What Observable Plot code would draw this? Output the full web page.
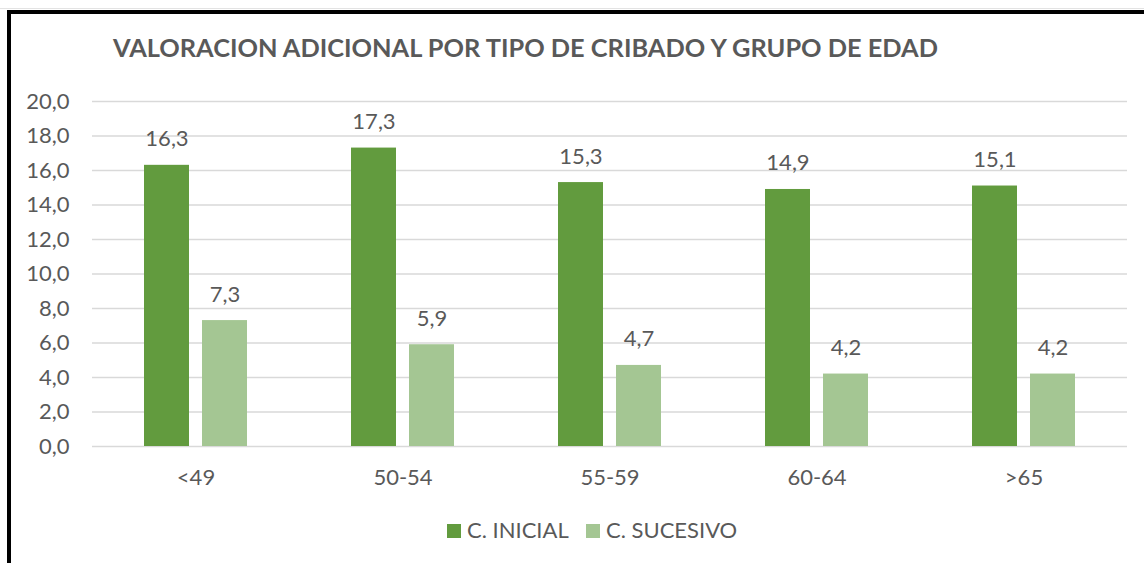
<!DOCTYPE html>
<html>
<head>
<meta charset="utf-8">
<script src="https://cdn.jsdelivr.net/npm/d3@7"></script>
<script src="https://cdn.jsdelivr.net/npm/@observablehq/plot@0.6"></script>
<style>
  html, body { margin: 0; padding: 0; background: #fff; overflow: hidden; }
  #wrap { position: relative; width: 1144px; height: 563px; overflow: hidden; font-family: Lato, "Open Sans", sans-serif; }
  #frame { position: absolute; left: 7px; top: 10px; width: 1300px; height: 700px; border-left: 4px solid #000; border-top: 4px solid #000; box-sizing: border-box; }
  #topline { position: absolute; left: 0; top: 8px; width: 1144px; height: 1px; background: #e3e3e3; }
  #chart { position: absolute; left: 0; top: 0; }
  #overlay { position: absolute; left: 0; top: 0; pointer-events: none; }
</style>
</head>
<body>
<div id="wrap">
  <div id="topline"></div>
  <div id="frame"></div>
  <div id="chart"></div>
  <svg id="overlay" width="1144" height="563"></svg>
</div>
<script>
const titleText = "VALORACION ADICIONAL POR TIPO DE CRIBADO Y GRUPO DE EDAD";
const groups = ["<49", "50-54", "55-59", "60-64", ">65"];
const series = ["C. INICIAL", "C. SUCESIVO"];
const inicial = [16.3, 17.3, 15.3, 14.9, 15.1];
const sucesivo = [7.3, 5.9, 4.7, 4.2, 4.2];
const yTicks = [0, 2, 4, 6, 8, 10, 12, 14, 16, 18, 20];
const colors = ["#629b3e", "#a4c693"];

const fmt = v => v.toFixed(1).replace(".", ",");

const data = [];
groups.forEach((g, i) => {
  data.push({group: g, series: series[0], value: inicial[i]});
  data.push({group: g, series: series[1], value: sucesivo[i]});
});

const textColor = "#595959";

const chart = Plot.plot({
  width: 1144,
  height: 500,
  marginLeft: 91,
  marginRight: 16,
  marginTop: 101,
  marginBottom: 54,
  style: {fontFamily: "Lato, 'Open Sans', sans-serif", fontSize: "22px", color: textColor, background: "transparent"},
  fx: {domain: groups, padding: 0, label: null, axis: "bottom", tickSize: 0, tickPadding: 23},
  x: {domain: series, paddingInner: 13 / 59, paddingOuter: 0.8675, axis: null},
  y: {domain: [0, 20], ticks: yTicks, tickFormat: fmt, tickSize: 0, tickPadding: 23, label: null},
  color: {domain: series, range: colors},
  marks: [
    Plot.gridY(yTicks, {stroke: "#d9d9d9", strokeOpacity: 1, strokeWidth: 1.5}),
    Plot.barY(data, {fx: "group", x: "series", y: "value", fill: "series"}),
    Plot.text(data, {fx: "group", x: "series", y: "value", text: d => fmt(d.value), dy: -19, lineAnchor: "bottom", fill: textColor, fontSize: 22})
  ]
});
document.getElementById("chart").appendChild(chart);

// Title and legend overlay
const ov = d3.select("#overlay");
ov.append("text")
  .attr("x", 113).attr("y", 57)
  .attr("font-family", "Lato, 'Open Sans', sans-serif")
  .attr("font-weight", 700)
  .attr("font-size", 24)
  .attr("fill", textColor)
  .attr("textLength", 825)
  .attr("lengthAdjust", "spacingAndGlyphs")
  .text(titleText);

const legendX = [447, 586];
series.forEach((s, i) => {
  ov.append("rect").attr("x", legendX[i]).attr("y", 524).attr("width", 14).attr("height", 14).attr("fill", colors[i]);
  ov.append("text")
    .attr("x", legendX[i] + 20).attr("y", 538)
    .attr("font-family", "Lato, 'Open Sans', sans-serif")
    .attr("font-size", 22)
    .attr("fill", textColor)
    .text(s);
});
</script>
</body>
</html>
